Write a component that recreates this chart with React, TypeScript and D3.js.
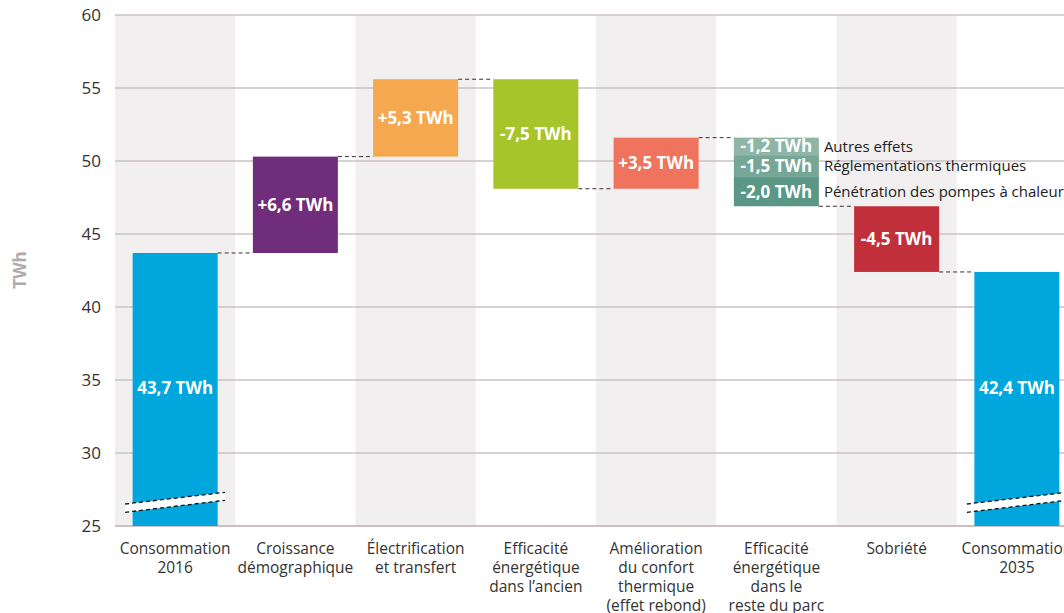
import React from "react";
import * as d3 from "d3";

const categories = [
  "Consommation 2016",
  "Croissance démographique",
  "Électrification et transfert",
  "Efficacité énergétique dans l'ancien",
  "Amélioration du confort thermique (effet rebond)",
  "Efficacité énergétique dans le reste du parc",
  "Sobriété",
  "Consommation 2035",
];
const categoryLines = [
  ["Consommation", "2016"],
  ["Croissance", "démographique"],
  ["Électrification", "et transfert"],
  ["Efficacité", "énergétique", "dans l\u2019ancien"],
  ["Amélioration", "du confort", "thermique", "(effet rebond)"],
  ["Efficacité", "énergétique", "dans le", "reste du parc"],
  ["Sobriété"],
  ["Consommation", "2035"],
];
// kind: total | step | stack
const kinds = ["total", "step", "step", "step", "step", "stack", "step", "total"];
const stepValues = [43.7, 6.6, 5.3, -7.5, 3.5, -4.7, -4.5, 42.4];
const barLabels = ["43,7 TWh", "+6,6 TWh", "+5,3 TWh", "-7,5 TWh", "+3,5 TWh", "", "-4,5 TWh", "42,4 TWh"];
const barColors = ["#00a6dc", "#6f2d7c", "#f5a84f", "#a5c52b", "#ef735d", "", "#c1303a", "#00a6dc"];

const stackValues = [-1.2, -1.5, -2.0];
const stackLabels = ["-1,2 TWh", "-1,5 TWh", "-2,0 TWh"];
const stackNames = ["Autres effets", "Réglementations thermiques", "Pénétration des pompes à chaleur"];
const stackColors = ["#8fb5a5", "#75a696", "#5a9784"];

const yTicks = [25, 30, 35, 40, 45, 50, 55, 60];

export default function App() {
  const W = 1064, H = 613;
  const x = d3.scaleBand<string>().domain(categories).range([115, 115 + 8 * 120.25]).padding(0);
  const y = d3.scaleLinear().domain([25, 60]).range([526, 15]);
  const bw = 85;
  const bx = (c: string) => (x(c) as number) + x.bandwidth() / 2 - bw / 2;

  const bars: { c: string; lo: number; hi: number; end: number; i: number }[] = [];
  let run = 0;
  categories.forEach((c, i) => {
    if (kinds[i] === "total") {
      run = stepValues[i];
      bars.push({ c, lo: 25, hi: run, end: run, i });
    } else {
      const start = run;
      const v = kinds[i] === "stack" ? d3.sum(stackValues) : stepValues[i];
      run = start + v;
      bars.push({ c, lo: Math.min(start, run), hi: Math.max(start, run), end: run, i });
    }
  });

  const font = "'Open Sans', 'Noto Sans', sans-serif";
  const lblSize = 17;

  return (
    <svg width={W} height={H} style={{ position: "absolute", left: 0, top: 0, background: "#fff" }}>
      {categories.map((c, i) =>
        i % 2 === 0 ? (
          <rect key={c} x={x(c)} y={y(60)} width={x.bandwidth()} height={y(25) - y(60)} fill="#f1eff0" />
        ) : null
      )}
      {yTicks.map((t) => (
        <line key={t} x1={115} x2={W} y1={y(t)} y2={y(t)} stroke="#cbc1c5" strokeWidth={t === 25 ? 2 : 1.3} />
      ))}
      {yTicks.map((t) => (
        <text key={"t" + t} x={101} y={y(t)} dy="0.35em" textAnchor="end" fontSize={17} fill="#333" fontFamily={font}>
          {t}
        </text>
      ))}
      <text
        transform={`translate(26,${270}) rotate(-90)`}
        textAnchor="middle"
        fontSize={17}
        fontWeight={700}
        fill="#b3a9ad"
        fontFamily={font}
      >
        TWh
      </text>

      {bars.slice(0, -1).map((b, i) => {
        const nx = bx(categories[i + 1]);
        return (
          <line
            key={"cn" + i}
            x1={bx(b.c) + bw}
            x2={nx}
            y1={y(b.end)}
            y2={y(b.end)}
            stroke="#333"
            strokeWidth={1}
            strokeDasharray="4,3"
          />
        );
      })}

      {bars.map((b) => {
        if (kinds[b.i] === "stack") {
          let top = bars[b.i - 1].end;
          return (
            <g key={b.c}>
              {stackValues.map((v, k) => {
                const t = top;
                const bot = top + v;
                top = bot;
                return (
                  <g key={k}>
                    <rect x={bx(b.c)} y={y(t)} width={bw} height={y(bot) - y(t)} fill={stackColors[k]} />
                    <text
                      x={bx(b.c) + bw / 2}
                      y={(y(t) + y(bot)) / 2}
                      dy="0.35em"
                      textAnchor="middle"
                      fill="#fff"
                      fontWeight={700}
                      fontSize={lblSize}
                      fontFamily={font}
                    >
                      {stackLabels[k]}
                    </text>
                    <text
                      x={bx(b.c) + bw + 5}
                      y={(y(t) + y(bot)) / 2}
                      dy="0.35em"
                      fill="#222"
                      fontSize={15}
                      fontFamily={font}
                    >
                      {stackNames[k]}
                    </text>
                  </g>
                );
              })}
            </g>
          );
        }
        const isTotal = kinds[b.i] === "total";
        const ly = isTotal ? y(34.45) : (y(b.lo) + y(b.hi)) / 2;
        return (
          <g key={b.c}>
            <rect x={bx(b.c)} y={y(b.hi)} width={bw} height={y(b.lo) - y(b.hi)} fill={barColors[b.i]} />
            <text
              x={bx(b.c) + bw / 2}
              y={ly}
              dy="0.35em"
              textAnchor="middle"
              fill="#fff"
              fontWeight={700}
              fontSize={lblSize}
              fontFamily={font}
            >
              {barLabels[b.i]}
            </text>
            {isTotal && (() => {
              const x0 = bx(b.c) - 7.5;
              const x1 = x0 + 100;
              const pts = [
                [x0, 504],
                [x1, 492.3],
                [x1, 500.3],
                [x0, 512.3],
              ];
              return (
                <g>
                  <polygon points={pts.map((p) => p.join(",")).join(" ")} fill="#fff" />
                  <line x1={x0} y1={504} x2={x1} y2={492.3} stroke="#111" strokeWidth={1.3} strokeDasharray="4,3" />
                  <line x1={x0} y1={512.3} x2={x1} y2={500.3} stroke="#111" strokeWidth={1.3} strokeDasharray="4,3" />
                </g>
              );
            })()}
          </g>
        );
      })}

      {categories.map((c, i) => (
        <text
          key={"cl" + c}
          x={(x(c) as number) + x.bandwidth() / 2}
          y={549}
          textAnchor="middle"
          fontSize={15.5}
          fill="#333"
          fontFamily={font}
        >
          {categoryLines[i].map((l, k) => (
            <tspan key={k} x={(x(c) as number) + x.bandwidth() / 2} dy={k === 0 ? "0.35em" : 18.7}>
              {l}
            </tspan>
          ))}
        </text>
      ))}
    </svg>
  );
}
